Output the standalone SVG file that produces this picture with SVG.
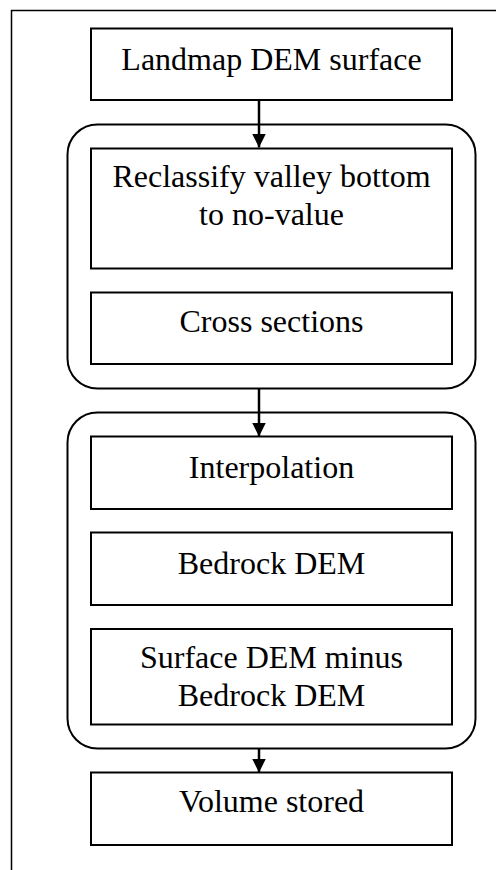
<svg xmlns="http://www.w3.org/2000/svg" width="496" height="870" viewBox="0 0 496 870">
<defs>
<style>
.box{fill:#fff;stroke:#000;stroke-width:2}
.grp{fill:none;stroke:#000;stroke-width:2}
.frame{fill:none;stroke:#000;stroke-width:1.5}
.conn{stroke:#000;stroke-width:2.5;fill:none}
</style>
<marker id="ah" viewBox="0 0 14 14" refX="14" refY="7" markerWidth="14" markerHeight="14" markerUnits="userSpaceOnUse" orient="auto">
<path d="M0,0 L14,7 L0,14 Z" fill="#000"/>
</marker>
</defs>
<rect width="496" height="870" fill="#fff"/>
<rect class="frame" x="11.5" y="10.5" width="500" height="880"/>
<g id="group1"><rect class="grp" x="67.5" y="124.5" width="408" height="264" rx="30" ry="30"/></g>
<g id="group2"><rect class="grp" x="67.5" y="412.5" width="408" height="336" rx="30" ry="30"/></g>
<g id="connectors">
<line class="conn" x1="259" y1="100" x2="259" y2="147.5" marker-end="url(#ah)"/>
<line class="conn" x1="259" y1="388.5" x2="259" y2="436.5" marker-end="url(#ah)"/>
<line class="conn" x1="259" y1="748.5" x2="259" y2="772.5" marker-end="url(#ah)"/>
</g>
<g font-family="Liberation Serif, serif" font-size="32" text-anchor="middle" fill="#000">
<g id="n1"><rect class="box" x="91" y="28.5" width="361" height="71.5"/><text x="271.5" y="70">Landmap DEM surface</text></g>
<g id="n2"><rect class="box" x="91" y="148.5" width="361" height="120"/><text x="271.5" y="187">Reclassify valley bottom</text><text x="271.5" y="225">to no-value</text></g>
<g id="n3"><rect class="box" x="91" y="292.5" width="361" height="71.5"/><text x="271.5" y="332">Cross sections</text></g>
<g id="n4"><rect class="box" x="91" y="436.5" width="361" height="72.5"/><text x="271.5" y="478">Interpolation</text></g>
<g id="n5"><rect class="box" x="91" y="532.5" width="361" height="72.5"/><text x="271.5" y="574">Bedrock DEM</text></g>
<g id="n6"><rect class="box" x="91" y="629" width="361" height="95.5"/><text x="271.5" y="668">Surface DEM minus</text><text x="271.5" y="706">Bedrock DEM</text></g>
<g id="n7"><rect class="box" x="91" y="772.5" width="361" height="72.5"/><text x="271.5" y="812">Volume stored</text></g>
</g>
</svg>
